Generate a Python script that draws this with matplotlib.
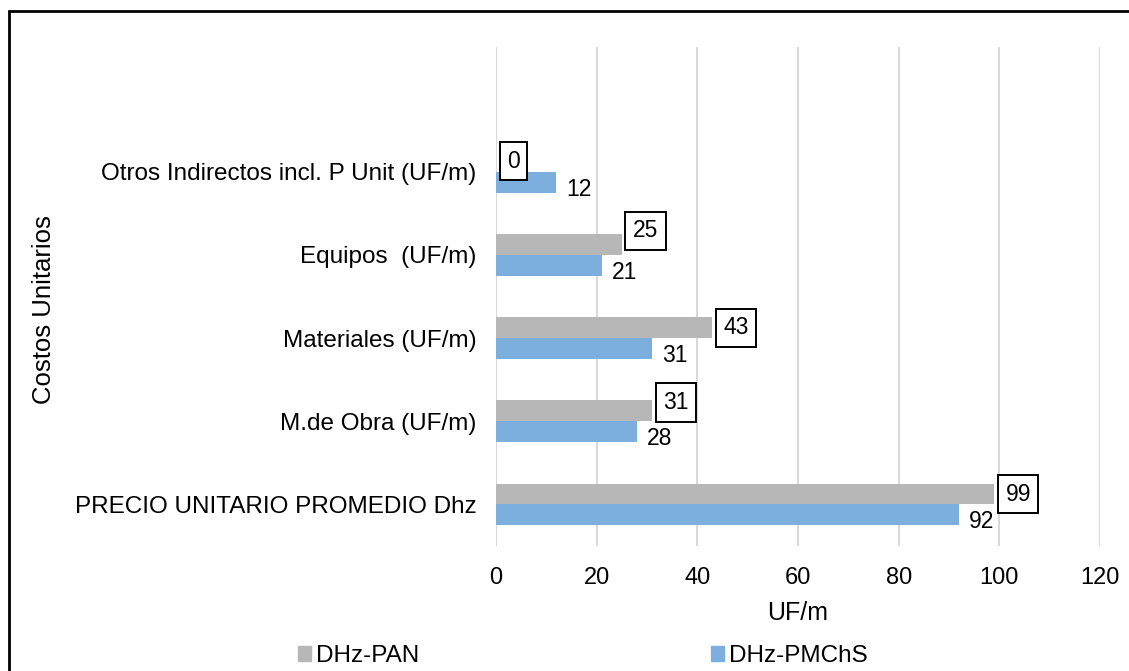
import matplotlib.pyplot as plt
from matplotlib.patches import Patch, Rectangle

plt.rcParams['font.family'] = ['Liberation Sans', 'DejaVu Sans']

# categories listed bottom to top
categorias = [
    "PRECIO UNITARIO PROMEDIO Dhz",
    "M.de Obra (UF/m)",
    "Materiales (UF/m)",
    "Equipos  (UF/m)",
    "Otros Indirectos incl. P Unit (UF/m)",
]
pan = [99, 31, 43, 25, 0]
pmchs = [92, 28, 31, 21, 12]
series = ["DHz-PAN", "DHz-PMChS"]
xticks = [0, 20, 40, 60, 80, 100, 120]

# vertical nudge (points) of each boxed label, same order as categorias
subida_caja = [0, 6, 0, 10, 0]

gris = "#b7b7b7"
azul = "#7cafdd"

fig = plt.figure(figsize=(11.29, 6.71), dpi=100)
ax = fig.add_axes([496 / 1129, 1 - 546 / 671, 604 / 1129, 499 / 671])

y = list(range(len(categorias)))
h = 0.25
ax.barh([i + h / 2 for i in y], pan, height=h, color=gris, zorder=3)
ax.barh([i - h / 2 for i in y], pmchs, height=h, color=azul, zorder=3)

# boxed labels on the gray bars, plain labels on the blue bars
for i, v in enumerate(pan):
    ax.annotate(str(v), (v, i + h / 2), xytext=(8, subida_caja[i]), textcoords="offset points",
                ha="left", va="center", fontsize=16.5, zorder=5,
                bbox=dict(boxstyle="square,pad=0.33", fc="white", ec="black", lw=1.4))
for i, v in enumerate(pmchs):
    ax.annotate(str(v), (v, i - h / 2), xytext=(7, -5), textcoords="offset points",
                ha="left", va="center", fontsize=16.5, zorder=5)

ax.set_xlim(0, 120)
ax.set_ylim(-0.5, 5.5)
ax.set_xticks(xticks)
ax.set_yticks(y)
ax.set_yticklabels(categorias, fontsize=17.5)
ax.tick_params(axis="x", labelsize=17, length=0, pad=15)
ax.tick_params(axis="y", length=0, pad=14)
ax.grid(axis="x", color="#d9d9d9", linewidth=1.5, zorder=0)
for s in ax.spines.values():
    s.set_visible(False)
ax.set_xlabel("UF/m", fontsize=18, labelpad=9)

fig.text(44 / 1129, 1 - 310 / 671, "Costos Unitarios", rotation=90,
         ha="center", va="center", fontsize=18.5)

handles = [Patch(color=gris), Patch(color=azul)]
fig.legend(handles, series, loc="center", bbox_to_anchor=(583 / 1129, 1 - 656 / 671),
           ncol=2, frameon=False, fontsize=17.5, handlelength=0.55, handleheight=0.55,
           handletextpad=0.2, columnspacing=12.0, borderpad=0)

# outer frame, open towards the right and bottom edges
fig.add_artist(Rectangle((9 / 1129, -0.1), 1.2, 1.1 - 11 / 671,
                         transform=fig.transFigure, fill=False, lw=2, ec="black"))

fig.savefig("out.png", dpi=100)
